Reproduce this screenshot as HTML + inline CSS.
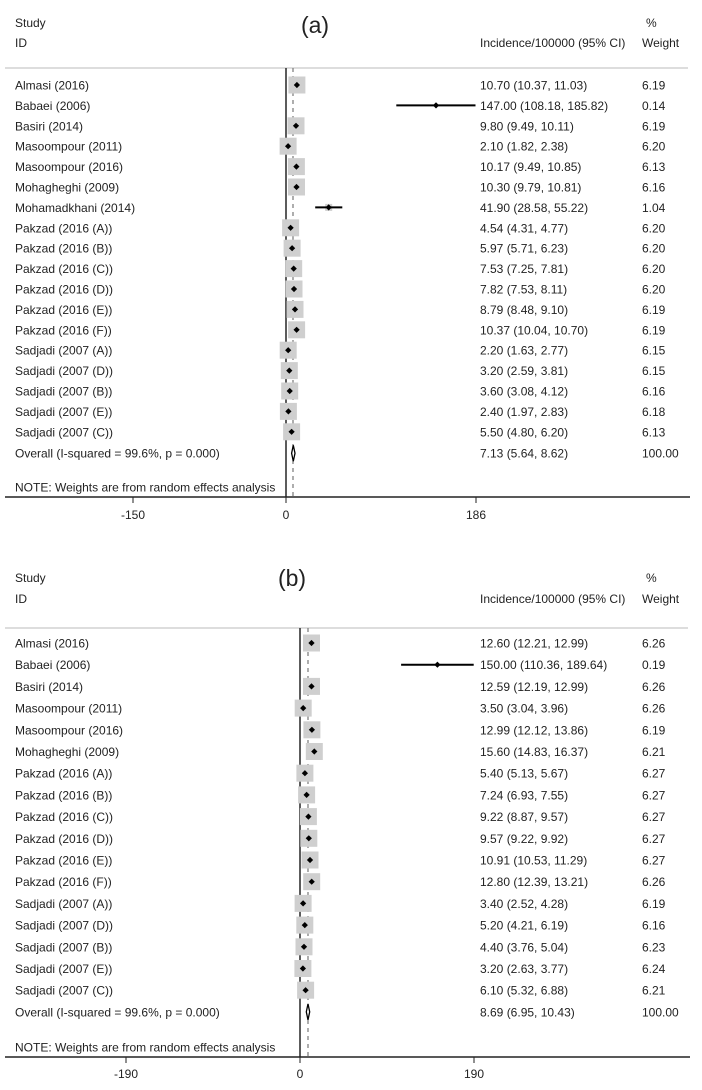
<!DOCTYPE html>
<html><head><meta charset="utf-8"><style>
html,body{margin:0;padding:0;background:#fff;}
svg text{font-family:"Liberation Sans",Arial,sans-serif;font-size:12px;fill:#222;}
</style></head><body>
<svg width="702" height="1085" viewBox="0 0 702 1085" xmlns="http://www.w3.org/2000/svg">
<defs>
<g id="sq"><rect x="-8.5" y="-8.5" width="17" height="17" fill="#cfcfcf"/><rect x="-2.2" y="-2.2" width="4.4" height="4.4" fill="#000" transform="rotate(45)"/></g>
<g id="dot"><rect x="-2.2" y="-2.2" width="4.4" height="4.4" fill="#000" transform="rotate(45)"/></g>
</defs>

<!-- PANEL A -->
<text x="15" y="27">Study</text>
<text x="15" y="47">ID</text>
<text x="315" y="33" text-anchor="middle" style="font-size:23px">(a)</text>
<text x="646" y="27">%</text>
<text x="480" y="47">Incidence/100000 (95% CI)</text>
<text x="642" y="47">Weight</text>
<line x1="5" y1="68" x2="688" y2="68" stroke="#ddd" stroke-width="2"/>
<line x1="286" y1="68" x2="286" y2="497" stroke="#333" stroke-width="1.6"/>
<line x1="293" y1="68" x2="293" y2="497" stroke="#777" stroke-width="1.2" stroke-dasharray="4,4"/>
<line x1="5" y1="497" x2="690" y2="497" stroke="#222" stroke-width="1.4"/>
<line x1="133" y1="497" x2="133" y2="503" stroke="#222"/>
<line x1="286" y1="497" x2="286" y2="503" stroke="#222"/>
<line x1="476" y1="497" x2="476" y2="503" stroke="#222"/>
<text x="133" y="519" text-anchor="middle">-150</text>
<text x="286" y="519" text-anchor="middle">0</text>
<text x="476" y="519" text-anchor="middle">186</text>

<g>
<text x="15" y="89.5">Almasi (2016)</text><use href="#sq" x="296.9" y="85"/><text x="480" y="89.5">10.70 (10.37, 11.03)</text><text x="642" y="89.5">6.19</text>
<text x="15" y="109.9">Babaei (2006)</text><line x1="396.3" y1="105.4" x2="475.5" y2="105.4" stroke="#000" stroke-width="2"/><use href="#dot" x="436" y="105.4"/><text x="480" y="109.9">147.00 (108.18, 185.82)</text><text x="642" y="109.9">0.14</text>
<text x="15" y="130.3">Basiri (2014)</text><use href="#sq" x="296" y="125.8"/><text x="480" y="130.3">9.80 (9.49, 10.11)</text><text x="642" y="130.3">6.19</text>
<text x="15" y="150.7">Masoompour (2011)</text><use href="#sq" x="288.1" y="146.2"/><text x="480" y="150.7">2.10 (1.82, 2.38)</text><text x="642" y="150.7">6.20</text>
<text x="15" y="171.1">Masoompour (2016)</text><use href="#sq" x="296.4" y="166.6"/><text x="480" y="171.1">10.17 (9.49, 10.85)</text><text x="642" y="171.1">6.13</text>
<text x="15" y="191.5">Mohagheghi (2009)</text><use href="#sq" x="296.5" y="187"/><text x="480" y="191.5">10.30 (9.79, 10.81)</text><text x="642" y="191.5">6.16</text>
<text x="15" y="211.9">Mohamadkhani (2014)</text><rect x="325.2" y="203.9" width="7" height="7" fill="#cfcfcf"/><line x1="315.2" y1="207.4" x2="342.3" y2="207.4" stroke="#000" stroke-width="2"/><use href="#dot" x="328.7" y="207.4"/><text x="480" y="211.9">41.90 (28.58, 55.22)</text><text x="642" y="211.9">1.04</text>
<text x="15" y="232.3">Pakzad (2016 (A))</text><use href="#sq" x="290.6" y="227.8"/><text x="480" y="232.3">4.54 (4.31, 4.77)</text><text x="642" y="232.3">6.20</text>
<text x="15" y="252.7">Pakzad (2016 (B))</text><use href="#sq" x="292.1" y="248.2"/><text x="480" y="252.7">5.97 (5.71, 6.23)</text><text x="642" y="252.7">6.20</text>
<text x="15" y="273.1">Pakzad (2016 (C))</text><use href="#sq" x="293.7" y="268.6"/><text x="480" y="273.1">7.53 (7.25, 7.81)</text><text x="642" y="273.1">6.20</text>
<text x="15" y="293.5">Pakzad (2016 (D))</text><use href="#sq" x="294" y="289"/><text x="480" y="293.5">7.82 (7.53, 8.11)</text><text x="642" y="293.5">6.20</text>
<text x="15" y="313.9">Pakzad (2016 (E))</text><use href="#sq" x="295" y="309.4"/><text x="480" y="313.9">8.79 (8.48, 9.10)</text><text x="642" y="313.9">6.19</text>
<text x="15" y="334.3">Pakzad (2016 (F))</text><use href="#sq" x="296.6" y="329.8"/><text x="480" y="334.3">10.37 (10.04, 10.70)</text><text x="642" y="334.3">6.19</text>
<text x="15" y="354.7">Sadjadi (2007 (A))</text><use href="#sq" x="288.2" y="350.2"/><text x="480" y="354.7">2.20 (1.63, 2.77)</text><text x="642" y="354.7">6.15</text>
<text x="15" y="375.1">Sadjadi (2007 (D))</text><use href="#sq" x="289.3" y="370.6"/><text x="480" y="375.1">3.20 (2.59, 3.81)</text><text x="642" y="375.1">6.15</text>
<text x="15" y="395.5">Sadjadi (2007 (B))</text><use href="#sq" x="289.7" y="391"/><text x="480" y="395.5">3.60 (3.08, 4.12)</text><text x="642" y="395.5">6.16</text>
<text x="15" y="415.9">Sadjadi (2007 (E))</text><use href="#sq" x="288.4" y="411.4"/><text x="480" y="415.9">2.40 (1.97, 2.83)</text><text x="642" y="415.9">6.18</text>
<text x="15" y="436.3">Sadjadi (2007 (C))</text><use href="#sq" x="291.6" y="431.8"/><text x="480" y="436.3">5.50 (4.80, 6.20)</text><text x="642" y="436.3">6.13</text>
<text x="15" y="457.7">Overall  (I-squared = 99.6%, p = 0.000)</text><polygon points="291.6,453.2 293.3,445.2 295,453.2 293.3,461.2" fill="#fff" stroke="#000" stroke-width="1.3"/><text x="480" y="457.7">7.13 (5.64, 8.62)</text><text x="642" y="457.7">100.00</text>
<text x="15" y="491.5">NOTE: Weights are from random effects analysis</text>
</g>

<!-- PANEL B -->
<text x="15" y="582">Study</text>
<text x="15" y="603">ID</text>
<text x="292" y="586" text-anchor="middle" style="font-size:23px">(b)</text>
<text x="646" y="582">%</text>
<text x="480" y="603">Incidence/100000 (95% CI)</text>
<text x="642" y="603">Weight</text>
<line x1="5" y1="628" x2="688" y2="628" stroke="#ddd" stroke-width="2"/>
<line x1="300" y1="628" x2="300" y2="1057" stroke="#333" stroke-width="1.6"/>
<line x1="308" y1="628" x2="308" y2="1057" stroke="#777" stroke-width="1.2" stroke-dasharray="4,4"/>
<line x1="5" y1="1057" x2="690" y2="1057" stroke="#222" stroke-width="1.4"/>
<line x1="126" y1="1057" x2="126" y2="1063" stroke="#222"/>
<line x1="300" y1="1057" x2="300" y2="1063" stroke="#222"/>
<line x1="474" y1="1057" x2="474" y2="1063" stroke="#222"/>
<text x="126" y="1078" text-anchor="middle">-190</text>
<text x="300" y="1078" text-anchor="middle">0</text>
<text x="474" y="1078" text-anchor="middle">190</text>

<g>
<text x="15" y="647.5">Almasi (2016)</text><use href="#sq" x="311.5" y="643"/><text x="480" y="647.5">12.60 (12.21, 12.99)</text><text x="642" y="647.5">6.26</text>
<text x="15" y="669.2">Babaei (2006)</text><line x1="401.1" y1="664.7" x2="473.7" y2="664.7" stroke="#000" stroke-width="2"/><use href="#dot" x="437.4" y="664.7"/><text x="480" y="669.2">150.00 (110.36, 189.64)</text><text x="642" y="669.2">0.19</text>
<text x="15" y="690.9">Basiri (2014)</text><use href="#sq" x="311.5" y="686.4"/><text x="480" y="690.9">12.59 (12.19, 12.99)</text><text x="642" y="690.9">6.26</text>
<text x="15" y="712.6">Masoompour (2011)</text><use href="#sq" x="303.2" y="708.1"/><text x="480" y="712.6">3.50 (3.04, 3.96)</text><text x="642" y="712.6">6.26</text>
<text x="15" y="734.3">Masoompour (2016)</text><use href="#sq" x="311.9" y="729.8"/><text x="480" y="734.3">12.99 (12.12, 13.86)</text><text x="642" y="734.3">6.19</text>
<text x="15" y="756">Mohagheghi (2009)</text><use href="#sq" x="314.3" y="751.5"/><text x="480" y="756">15.60 (14.83, 16.37)</text><text x="642" y="756">6.21</text>
<text x="15" y="777.7">Pakzad (2016 (A))</text><use href="#sq" x="304.9" y="773.2"/><text x="480" y="777.7">5.40 (5.13, 5.67)</text><text x="642" y="777.7">6.27</text>
<text x="15" y="799.4">Pakzad (2016 (B))</text><use href="#sq" x="306.6" y="794.9"/><text x="480" y="799.4">7.24 (6.93, 7.55)</text><text x="642" y="799.4">6.27</text>
<text x="15" y="821.1">Pakzad (2016 (C))</text><use href="#sq" x="308.4" y="816.6"/><text x="480" y="821.1">9.22 (8.87, 9.57)</text><text x="642" y="821.1">6.27</text>
<text x="15" y="842.8">Pakzad (2016 (D))</text><use href="#sq" x="308.8" y="838.3"/><text x="480" y="842.8">9.57 (9.22, 9.92)</text><text x="642" y="842.8">6.27</text>
<text x="15" y="864.5">Pakzad (2016 (E))</text><use href="#sq" x="310" y="860"/><text x="480" y="864.5">10.91 (10.53, 11.29)</text><text x="642" y="864.5">6.27</text>
<text x="15" y="886.2">Pakzad (2016 (F))</text><use href="#sq" x="311.7" y="881.7"/><text x="480" y="886.2">12.80 (12.39, 13.21)</text><text x="642" y="886.2">6.26</text>
<text x="15" y="907.9">Sadjadi (2007 (A))</text><use href="#sq" x="303.1" y="903.4"/><text x="480" y="907.9">3.40 (2.52, 4.28)</text><text x="642" y="907.9">6.19</text>
<text x="15" y="929.6">Sadjadi (2007 (D))</text><use href="#sq" x="304.8" y="925.1"/><text x="480" y="929.6">5.20 (4.21, 6.19)</text><text x="642" y="929.6">6.16</text>
<text x="15" y="951.3">Sadjadi (2007 (B))</text><use href="#sq" x="304" y="946.8"/><text x="480" y="951.3">4.40 (3.76, 5.04)</text><text x="642" y="951.3">6.23</text>
<text x="15" y="973">Sadjadi (2007 (E))</text><use href="#sq" x="302.9" y="968.5"/><text x="480" y="973">3.20 (2.63, 3.77)</text><text x="642" y="973">6.24</text>
<text x="15" y="994.7">Sadjadi (2007 (C))</text><use href="#sq" x="305.6" y="990.2"/><text x="480" y="994.7">6.10 (5.32, 6.88)</text><text x="642" y="994.7">6.21</text>
<text x="15" y="1016.4">Overall  (I-squared = 99.6%, p = 0.000)</text><polygon points="306.3,1011.9 308,1003.9 309.7,1011.9 308,1019.9" fill="#fff" stroke="#000" stroke-width="1.3"/><text x="480" y="1016.4">8.69 (6.95, 10.43)</text><text x="642" y="1016.4">100.00</text>
<text x="15" y="1051.5">NOTE: Weights are from random effects analysis</text>
</g>
</svg>
</body></html>
